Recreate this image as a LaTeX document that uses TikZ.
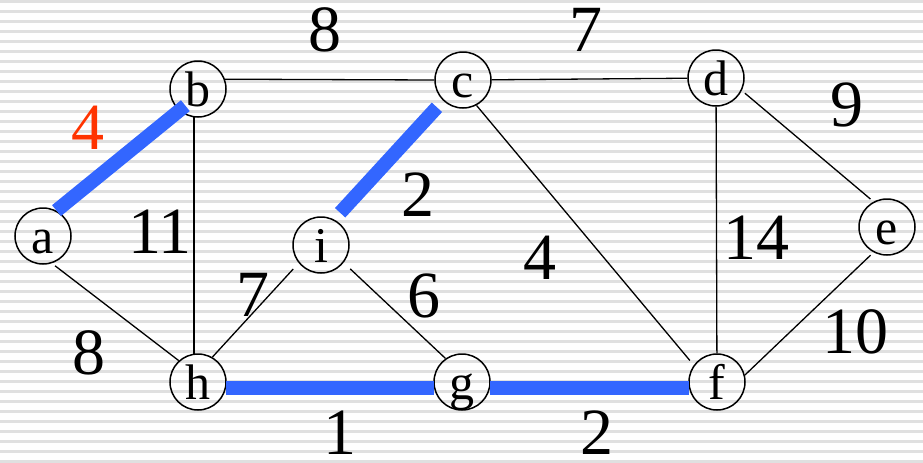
\documentclass[tikz,border=0pt]{standalone}
\usepackage{fontspec}
\setmainfont{Liberation Serif}
\definecolor{mstblue}{RGB}{51,102,255}
\definecolor{labred}{RGB}{255,51,0}
\definecolor{stripegray}{RGB}{224,224,224}
\begin{document}
\begin{tikzpicture}[x=0.5pt,y=-0.5pt,
  vertex/.style={circle,draw,line width=0.75pt,minimum size=28pt,inner sep=0pt,
    font=\fontsize{25}{30}\selectfont,text height=17pt,text depth=0pt},
  wlabel/.style={font=\fontsize{33}{40}\selectfont,inner sep=0pt},
  graphedge/.style={line width=0.65pt},
  mstedge/.style={line width=7pt,mstblue}]
\useasboundingbox (0,0) rectangle (923,462);
\clip (0,0) rectangle (923,462);
\fill[white] (0,0) rectangle (923,462);
\foreach \k in {0,...,46} \draw[stripegray,line width=1.5pt] (0,10*\k+1) -- (923,10*\k+1);

\node[vertex] (a) at (43,236) {a};
\node[vertex] (b) at (198,89) {b};
\node[vertex] (c) at (463,80) {c};
\node[vertex] (d) at (716,78) {d};
\node[vertex] (e) at (887,227) {e};
\node[vertex] (f) at (717,382) {f};
\node[vertex] (g) at (462,382) {g};
\node[vertex] (h) at (198,382) {h};
\node[vertex] (i) at (321,245) {i};

\draw[graphedge] (b.20) -- (c.west);
\draw[graphedge] (c) -- (d);
\draw[graphedge] (b.262) -- (h.98);
\draw[graphedge,shorten <=2pt] (a.-72) -- (h.132);
\draw[graphedge,shorten >=4pt] (h.60) -- (i.219);
\draw[graphedge,shorten <=4.5pt] (i.-38) -- (g.125);
\draw[graphedge,shorten >=3pt] (c.-62) -- (f.144);
\draw[graphedge] (d) -- (f);
\draw[graphedge,shorten <=2pt,shorten >=2pt] (d.-26) -- (e.118);
\draw[graphedge,shorten <=2pt] (e.242) -- (f.14);

\draw[mstedge,shorten >=-4pt] (a.62) -- (b.229);
\draw[mstedge,shorten <=4.5pt,shorten >=4.5pt] (c.226) -- (i.63);
\draw[mstedge] (h.-12) -- (g.192);
\draw[mstedge] (g.-12) -- (f.192);

\node[wlabel,labred] (wab) at (88,128) {4};
\node[wlabel] (wbc) at (325,30) {8};
\node[wlabel] (wcd) at (586,30) {7};
\node[wlabel] (wde) at (847,105) {9};
\node[wlabel] (wbh) at (160,232) {11};
\node[wlabel] (whi) at (253,295) {7};
\node[wlabel] (wah) at (89,353) {8};
\node[wlabel] (wci) at (418,195) {2};
\node[wlabel] (wcf) at (540,258) {4};
\node[wlabel] (wig) at (424,296) {6};
\node[wlabel] (whg) at (340,433) {1};
\node[wlabel] (wgf) at (597,433) {2};
\node[wlabel] (wdf) at (756,238) {14};
\node[wlabel] (wef) at (855,332) {10};
\end{tikzpicture}
\end{document}
